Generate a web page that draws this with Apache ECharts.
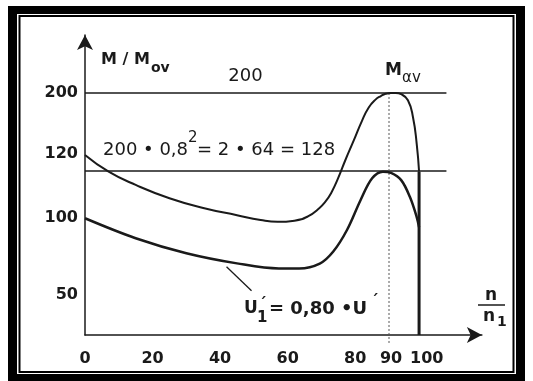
<!DOCTYPE html>
<html><head><meta charset="utf-8">
<script src="https://cdn.jsdelivr.net/npm/echarts@6/dist/echarts.min.js"></script>
<style>html,body{margin:0;padding:0;background:#fff;}#c{width:533px;height:381px;}</style>
</head><body><div id="c"></div>
<script>
// x: n/n1 (%), y: M/Mov drawn on the schematic scale of the figure
const xTickValues = [0, 20, 40, 60, 80, 90, 100];
const yTickValues = [33, 96.5, 150, 200];
const yTickLabels = ['50', '100', '120', '200'];

const upperN = [0, 7, 15, 25, 35, 45, 52, 57, 62, 66, 69, 71, 73, 75, 77, 79.6, 82, 84, 86, 87.6, 89, 90.6, 92, 93.6, 95.6, 97.1, 98.2, 98.9];
const upperM = [148.8, 135, 124, 113, 105, 99, 95, 93.5, 94.5, 98, 104, 109.5, 118, 130, 144, 161, 177, 188, 194.5, 197.5, 199.3, 200, 200, 199, 194, 180, 158, 135];

const lowerN = [0, 15, 30, 45, 57.4, 63.4, 69.5, 73.5, 77.6, 81.6, 85, 88.2, 90.6, 93.6, 96.2, 98.2, 98.9];
const lowerM = [96.5, 80, 67.6, 59.2, 55, 55, 59, 69, 87, 111.6, 129.5, 135, 134, 128, 114, 97.5, 89];

const dropN = [98.9, 98.9];
const dropM = [135, 0];
const line200N = [0, 107];
const line200M = [200, 200];
const line128N = [0, 107];
const line128M = [135.5, 135.5];
const guideN = [90, 90];
const guideM = [200, -8];
const leaderN = [41.9, 49.3];
const leaderM = [56.4, 36.6];

const zip = (a, b) => a.map((v, i) => [v, b[i]]);
const FONT = '"DejaVu Sans", sans-serif';
const INK = '#1a1a1a';

function lineSeries(n, m, width, extra) {
  return Object.assign({
    type: 'line', data: zip(n, m), showSymbol: false, symbol: 'none',
    lineStyle: { color: INK, width: width }, animation: false, silent: true
  }, extra || {});
}

function txt(x, y, text, font, align) {
  return { type: 'text', x: x, y: y, z: 50,
    style: { text: text, font: font, fill: INK, align: align || 'left', verticalAlign: 'middle',
             textAlign: align || 'left', textVerticalAlign: 'middle' } };
}

const chart = echarts.init(document.getElementById('c'), null, { renderer: 'canvas' });
chart.setOption({
  backgroundColor: '#fff',
  animation: false,
  grid: { left: 85, right: 51.1, top: 34.9, bottom: 46, containLabel: false },
  xAxis: {
    type: 'value', min: 0, max: 117.5,
    axisLine: { show: true, lineStyle: { color: INK, width: 1.5 }, symbol: ['none', 'arrow'], symbolSize: [12, 15] },
    axisTick: { show: false },
    splitLine: { show: false },
    axisLabel: {
      customValues: xTickValues, margin: 16, color: INK,
      fontFamily: 'DejaVu Sans', fontWeight: 'bold', fontSize: 16,
      formatter: v => v === 100 ? '{r|100}' : (v === 90 ? '{q|90}' : String(v)),
      rich: {
        r: { padding: [0, 0, 0, 8], fontFamily: 'DejaVu Sans', fontWeight: 'bold', fontSize: 16, color: INK },
        q: { padding: [0, 0, 0, 4], fontFamily: 'DejaVu Sans', fontWeight: 'bold', fontSize: 16, color: INK }
      }
    }
  },
  yAxis: {
    type: 'value', min: 0, max: 248,
    axisLine: { show: true, lineStyle: { color: INK, width: 1.5 }, symbol: ['none', 'arrow'], symbolSize: [12, 15] },
    axisTick: { show: false },
    splitLine: { show: false },
    axisLabel: {
      customValues: yTickValues, margin: 7, color: INK,
      fontFamily: 'DejaVu Sans', fontWeight: 'bold', fontSize: 16,
      formatter: v => yTickLabels[yTickValues.indexOf(v)]
    }
  },
  series: [
    lineSeries(line200N, line200M, 1.5),
    lineSeries(line128N, line128M, 1.5),
    lineSeries(guideN, guideM, 1, { clip: false, lineStyle: { color: '#555', width: 1, type: [2, 2] } }),
    lineSeries(upperN, upperM, 2, { smooth: 0.5 }),
    lineSeries(lowerN, lowerM, 2.5, { smooth: 0.35 }),
    lineSeries(dropN, dropM, 3),
    lineSeries(leaderN, leaderM, 1.3)
  ],
  graphic: [
    // double frame
    { type: 'rect', z: -10, shape: { x: 8, y: 6, width: 517, height: 375 }, style: { fill: '#000' } },
    { type: 'rect', z: -9, shape: { x: 17, y: 14, width: 499, height: 360 }, style: { fill: '#fff' } },
    { type: 'rect', z: -8, shape: { x: 19.5, y: 16, width: 494, height: 356 }, style: { fill: '#fff', stroke: '#000', lineWidth: 2 } },
    txt(101, 60, 'M / M', 'bold 16px ' + FONT),
    txt(151, 68, 'ov', 'bold 14px ' + FONT),
    txt(245.5, 76.5, '200', '18px ' + FONT, 'center'),
    txt(385, 71, 'M', 'bold 17px ' + FONT),
    txt(402, 78, 'αv', '15px ' + FONT),
    txt(103, 150, '200 • 0,8', '18px ' + FONT),
    txt(188, 138, '2', '15px ' + FONT),
    txt(197, 150, '= 2 • 64 = 128', '18px ' + FONT),
    txt(244, 309, 'U', 'bold 17px ' + FONT),
    txt(257, 318, '1', 'bold 15px ' + FONT),
    txt(259, 305, '´', 'bold 15px ' + FONT),
    txt(269, 309, '= 0,80 •U', 'bold 18px ' + FONT),
    txt(371, 302, '´', 'bold 15px ' + FONT),
    txt(491, 296, 'n', 'bold 17px ' + FONT, 'center'),
    { type: 'line', z: 50, shape: { x1: 478, y1: 305, x2: 505, y2: 305 }, style: { stroke: INK, lineWidth: 1.5 } },
    txt(489, 317, 'n', 'bold 17px ' + FONT, 'center'),
    txt(497, 322, '1', 'bold 14px ' + FONT)
  ]
});
</script>
</body></html>
